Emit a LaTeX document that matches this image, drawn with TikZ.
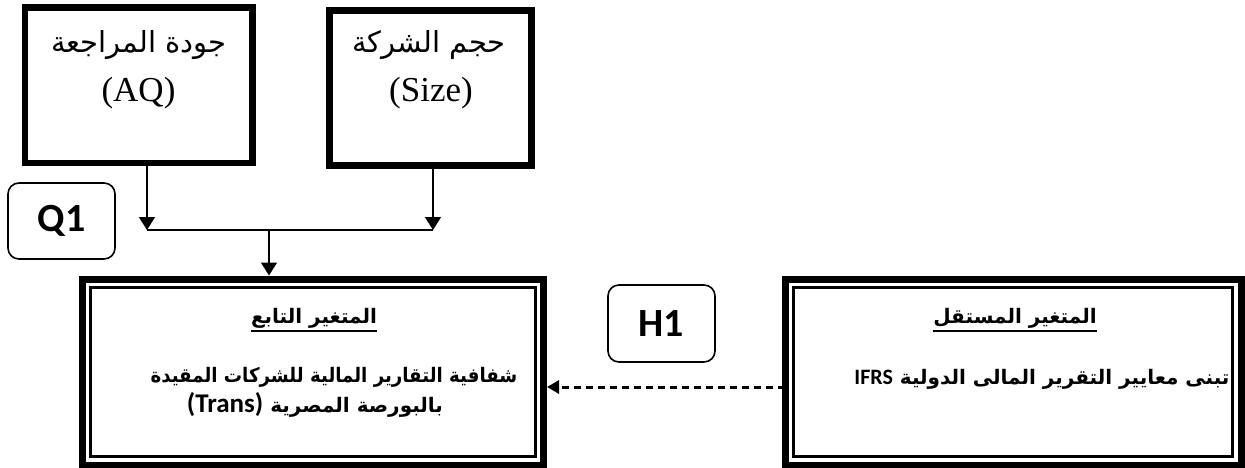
\documentclass[tikz,border=0pt]{standalone}
\usepackage{fontspec}
\setmainfont{Liberation Serif}
\newfontfamily\arabicfont[Script=Arabic]{DejaVu Sans}
\newfontfamily\arabiccond[Script=Arabic,FakeStretch=0.91]{DejaVu Sans}
\newfontfamily\calibfont{Carlito}
\TeXXeTstate=1
\usetikzlibrary{arrows.meta}
\begin{document}
\begin{tikzpicture}[x=1pt,y=-1pt,
  thickbox/.style={draw,line width=6.7pt,inner sep=0pt,outer sep=0pt},
  framebox/.style={draw,line width=7pt,inner sep=0pt,outer sep=0pt},
  tagbox/.style={draw,line width=1.6pt,rounded corners=11pt,inner sep=0pt,outer sep=0pt,
    minimum width=107pt,minimum height=76pt,font=\calibfont\bfseries\fontsize{40}{40}\selectfont},
  artop/.style={inner sep=0pt,anchor=base,font=\arabicfont\fontsize{29}{29}\selectfont},
  lattop/.style={inner sep=0pt,anchor=base,font=\fontsize{35}{35}\selectfont},
  arbold/.style={inner sep=0pt,anchor=base,font=\arabicfont\bfseries\fontsize{20}{20}\selectfont},
  arcond/.style={inner sep=0pt,anchor=base,font=\arabiccond\bfseries\fontsize{20}{20}\selectfont},
  arr/.style={line width=1.5pt,-{Triangle[width=16pt,length=13pt]}},
  dasharr/.style={line width=3pt,dash pattern=on 7pt off 5pt,-{Triangle[width=13pt,length=12pt]}},
  conn/.style={line width=1.5pt},
  inframe/.style={line width=3pt},
  uline/.style={line width=2pt}
]
\useasboundingbox (0,0) rectangle (1245,468);

% top boxes
\node[thickbox,minimum width=227.7pt,minimum height=155.7pt] (aq) at (138.85,85.15) {};
\node[thickbox,minimum width=202pt,minimum height=155pt] (size) at (430.5,88) {};
\node[artop] (aq1) at (139,53) {\beginR جودة المراجعة\endR};
\node[lattop] (aq2) at (138.5,102) {(AQ)};
\node[artop] (sz1) at (429,53) {\beginR حجم الشركة\endR};
\node[lattop] (sz2) at (431,102) {(Size)};

% tags
\node[tagbox] (q1) at (61.5,221) {Q1};
\node[tagbox,minimum height=77pt] (h1) at (661.5,323.5) {H1};

% bottom boxes
\node[framebox,minimum width=461.5pt,minimum height=186pt] (trans) at (312.75,372) {};
\draw[inframe] ([shift={(8.5,8.5)}]trans.north west) rectangle ([shift={(-8.5,-8.5)}]trans.south east);
\node[framebox,minimum width=456pt,minimum height=186pt] (ifrs) at (1013,372) {};
\draw[inframe] ([shift={(8.5,8.5)}]ifrs.north west) rectangle ([shift={(-8.5,-8.5)}]ifrs.south east);

\node[arbold] (tt) at (314,323) {\beginR المتغير التابع\endR};
\draw[uline] ([yshift=-8pt]tt.base west) -- ([yshift=-8pt]tt.base east);
\node[arcond] (tl1) at (334,382) {\beginR شفافية التقارير المالية للشركات المقيدة\endR};
\node[arbold] (tl2) at (315,412) {\beginR بالبورصة المصرية {\calibfont\bfseries\fontsize{27}{27}\selectfont\beginL(Trans)\endL}\endR};

\node[arbold] (it) at (1015,323) {\beginR المتغير المستقل\endR};
\draw[uline] ([yshift=-8pt]it.base west) -- ([yshift=-8pt]it.base east);
\node[arbold] (il1) at (1042,384) {\beginR تبنى معايير التقرير المالى الدولية {\calibfont\bfseries\fontsize{22}{22}\selectfont\beginL IFRS\endL}\endR};

% connectors
\coordinate (ja) at (147,230);
\coordinate (jb) at (433,230);
\coordinate (jm) at (269,230);
\coordinate (hy) at (660,387);
\draw[arr] (aq.south -| ja) -- (ja);
\draw[arr] (size.south -| jb) -- (jb);
\draw[conn] (ja) -- (jb);
\draw[arr,shorten >=3.5pt] (jm) -- (trans.north -| jm);
\draw[dasharr,shorten >=3.5pt] (ifrs.west |- hy) -- (trans.east |- hy);
\end{tikzpicture}
\end{document}
